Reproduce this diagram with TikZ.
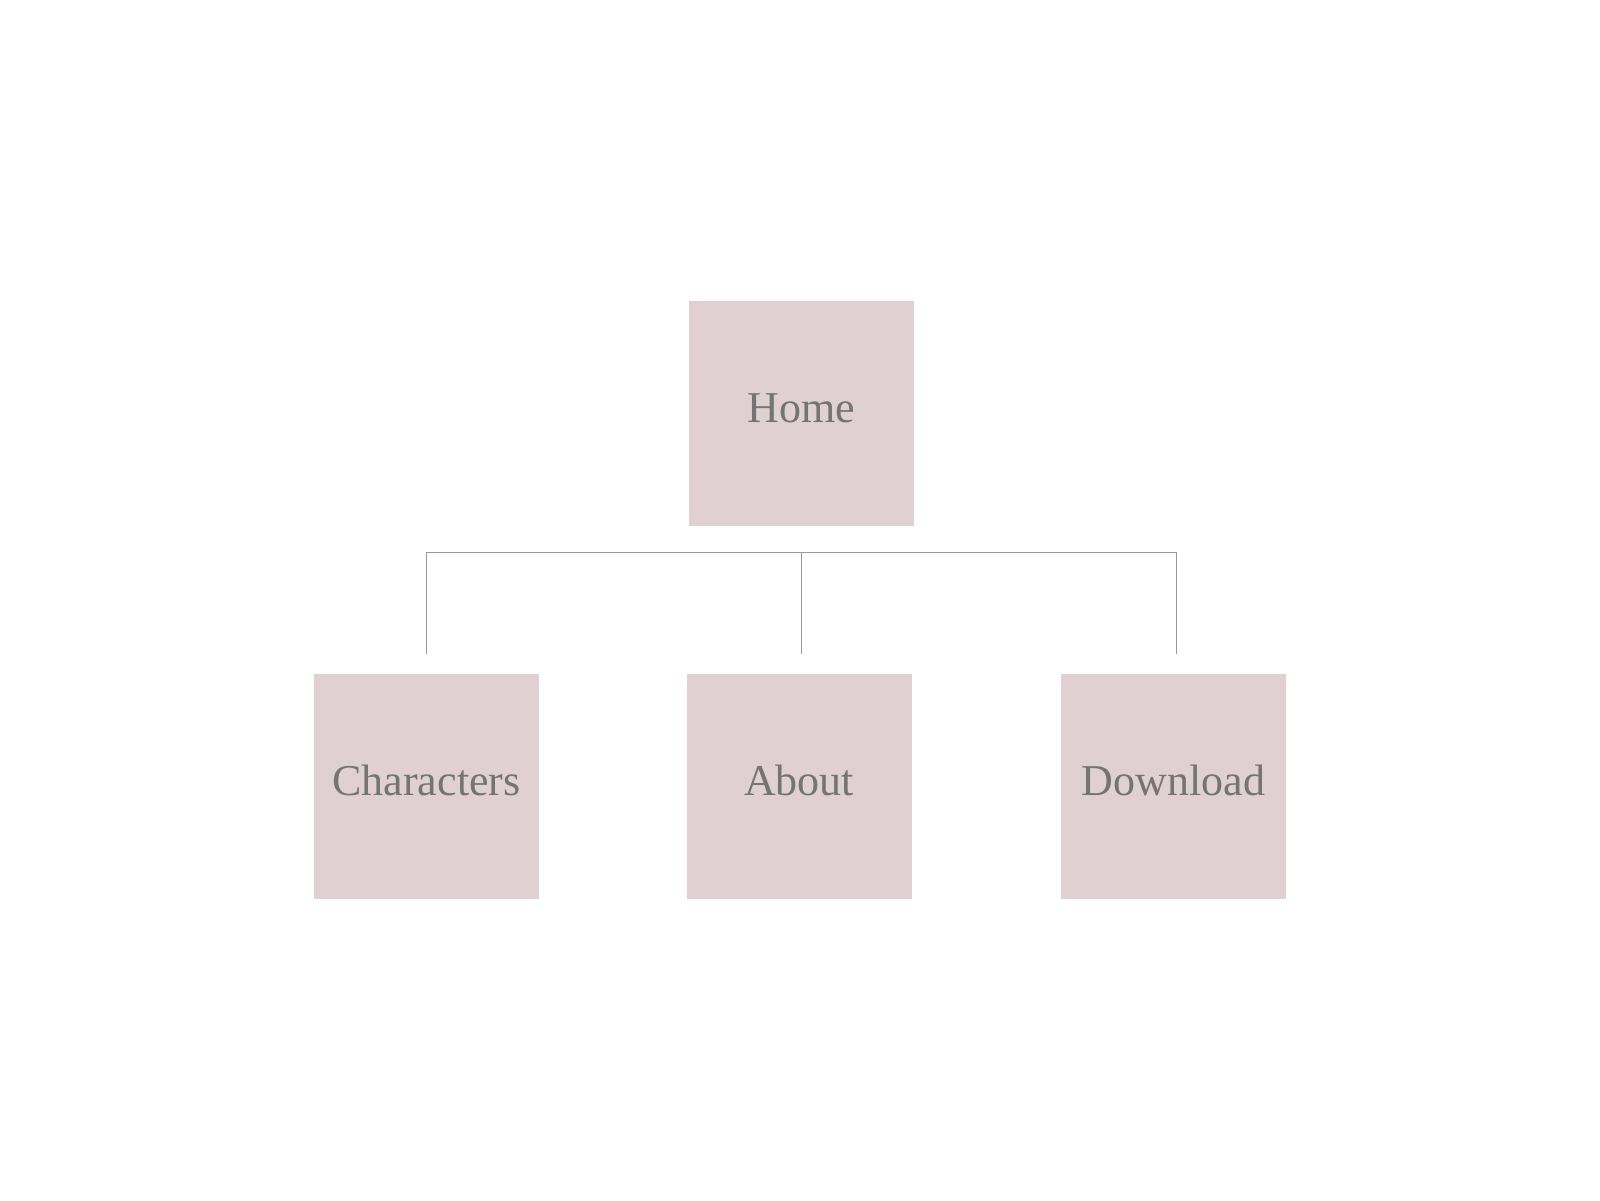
\documentclass[tikz,border=0pt]{standalone}
\usepackage{fontspec}
\setmainfont{Liberation Serif}
\definecolor{boxfill}{HTML}{E0D0D1}
\definecolor{boxtext}{HTML}{747474}
\definecolor{linegray}{HTML}{999999}
\begin{document}
\begin{tikzpicture}[x=1pt,y=-1pt,
  page/.style={fill=boxfill, draw=none, minimum width=225pt, minimum height=225pt,
    inner sep=0pt, text=boxtext, font=\fontsize{44}{48}\selectfont,
    text height=18pt, text depth=0pt},
  conn/.style={draw=linegray, line width=1pt}]
\useasboundingbox (0,0) rectangle (1600,1200);
\node[page] (home) at (801.5,413.5) {Home};
\node[page] (ch) at (426.5,786) {Characters};
\node[page] (ab) at (799,786) {About};
\node[page] (dl) at (1173.5,786) {Download};
\coordinate (bus) at ([yshift=-26pt]home.south);
\coordinate (chtop) at ([yshift=19pt]ch.north);
\coordinate (abtop) at ([yshift=19pt]ab.north -| home.south);
\coordinate (dltop) at ([xshift=3pt,yshift=19pt]dl.north);
\draw[conn] (chtop) -- (chtop |- bus) -- (dltop |- bus) -- (dltop);
\draw[conn] (bus) -- (abtop);
\end{tikzpicture}
\end{document}
